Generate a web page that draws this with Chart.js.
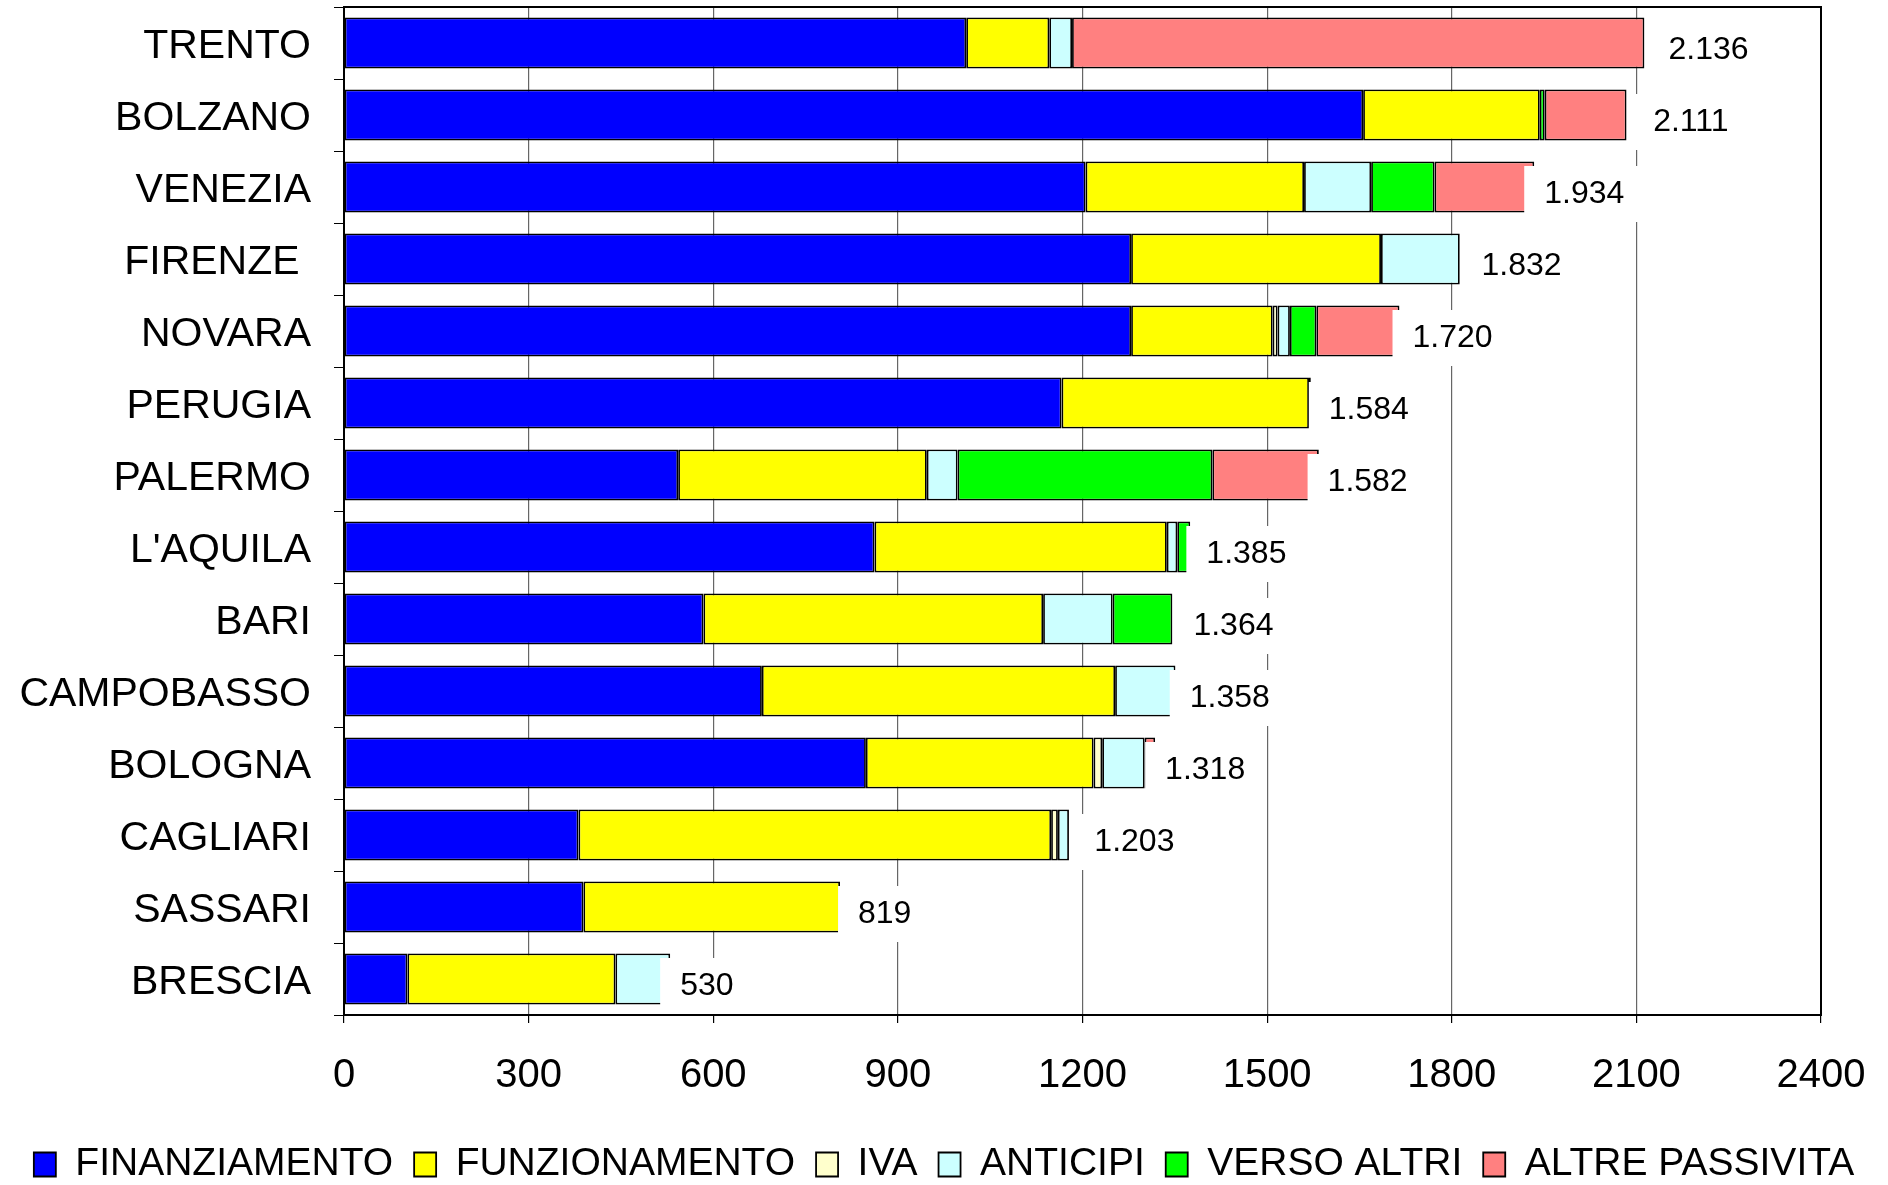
<!DOCTYPE html>
<html>
<head>
<meta charset="utf-8">
<script src="https://cdn.jsdelivr.net/npm/chart.js@4.4.1/dist/chart.umd.min.js"></script>
<style>
  body { margin: 0; background: #fff; }
  canvas { display: block; }
</style>
</head>
<body>
<canvas id="chart" width="1888" height="1185"></canvas>
<script>
'use strict';

// categories (top to bottom) and the stacked pieces
let cities = ['TRENTO', 'BOLZANO', 'VENEZIA', 'FIRENZE ', 'NOVARA', 'PERUGIA', 'PALERMO', 'L\'AQUILA', 'BARI', 'CAMPOBASSO', 'BOLOGNA', 'CAGLIARI', 'SASSARI', 'BRESCIA'];
let finanziamento = [1011, 1656, 1205, 1279, 1279, 1166, 543, 862, 584, 679, 848, 381, 389, 103];
let funzionamento = [135, 287, 355, 406, 230, 402, 404, 475, 552, 574, 370, 768, 417, 338];
let iva = [null, null, null, null, 8, null, null, null, null, null, 14, 11, null, null];
let anticipi = [37, null, 109, 128, 20, null, 50, 17, 113, 98, 69, 18, null, 89];
let versoAltri = [null, 8, 103, null, 43, 3, 414, 21, 97, null, null, null, null, null];
let altrePassivita = [930, 133, 162, null, 135, null, 173, null, null, null, 17, null, null, null];
let totals = [2136, 2111, 1934, 1832, 1720, 1584, 1582, 1385, 1364, 1358, 1318, 1203, 819, 530];
let xTicks = [0, 300, 600, 900, 1200, 1500, 1800, 2100, 2400];

let fontName = '"Liberation Sans", Arial, sans-serif';

function makeSet(label, data, color) {
  return {
    label: label,
    data: data,
    backgroundColor: color,
    borderColor: '#000',
    borderWidth: 1.8,
    borderSkipped: false,
    barPercentage: 0.71,
    categoryPercentage: 1
  };
}

// frame round the plot area (top and right sides)
let framePlugin = {
  id: 'frame',
  afterDraw(chart) {
    let a = chart.chartArea;
    let ctx = chart.ctx;
    ctx.save();
    ctx.strokeStyle = '#000';
    ctx.lineWidth = 2;
    ctx.strokeRect(a.left, a.top, a.right - a.left, a.bottom - a.top);
    ctx.restore();
  }
};

// total labels on white boxes at the end of each bar
let totalsPlugin = {
  id: 'totals',
  afterDatasetsDraw(chart) {
    let ctx = chart.ctx;
    let xs = chart.scales.x;
    let ys = chart.scales.y;
    ctx.save();
    ctx.font = '32px ' + fontName;
    ctx.textBaseline = 'middle';
    ctx.textAlign = 'left';
    for (let i = 0; i < totals.length; i++) {
      let text = totals[i].toLocaleString('it-IT');
      let x = xs.getPixelForValue(totals[i]) + 10;
      let y = ys.getPixelForValue(i) + 7;
      let w = ctx.measureText(text).width;
      ctx.fillStyle = '#fff';
      ctx.fillRect(x - 20, y - 28, w + 40, 56);
      ctx.fillStyle = '#000';
      ctx.fillText(text, x, y);
    }
    ctx.restore();
  }
};

let chart = new Chart(document.getElementById('chart').getContext('2d'), {
  type: 'bar',
  data: {
    labels: cities,
    datasets: [
      makeSet('FINANZIAMENTO', finanziamento, '#0000ff'),
      makeSet('FUNZIONAMENTO', funzionamento, '#ffff00'),
      makeSet('IVA', iva, '#ffffcc'),
      makeSet('ANTICIPI', anticipi, '#ccffff'),
      makeSet('VERSO ALTRI', versoAltri, '#00ff00'),
      makeSet('ALTRE PASSIVITA', altrePassivita, '#ff8080')
    ]
  },
  options: {
    indexAxis: 'y',
    responsive: false,
    animation: false,
    layout: { padding: { left: 0, right: 0, top: 7, bottom: -9 } },
    scales: {
      x: {
        stacked: true,
        min: 0,
        max: 2400,
        afterBuildTicks(scale) {
          scale.ticks = xTicks.map(v => ({ value: v }));
        },
        afterFit(scale) {
          scale.height = 109;
          scale.paddingLeft = 0;
          scale.paddingRight = 0;
        },
        ticks: {
          color: '#000',
          padding: 29,
          font: { family: fontName, size: 40 },
          callback: v => String(v)
        },
        grid: { color: '#666', lineWidth: 1.2, tickLength: 8, tickColor: '#000' },
        border: { color: '#000', width: 2 }
      },
      y: {
        stacked: true,
        afterFit(scale) {
          scale.width = 344;
          scale.paddingTop = 0;
          scale.paddingBottom = 0;
        },
        ticks: {
          color: '#000',
          padding: 23,
          labelOffset: 4,
          font: { family: fontName, size: 41 }
        },
        grid: { offset: true, drawOnChartArea: false, tickLength: 10, color: '#000' },
        border: { color: '#000', width: 2 }
      },
      // empty right-hand strip so the legend keeps the full width
      spacer: {
        type: 'linear',
        position: 'right',
        afterFit(scale) {
          scale.width = 67;
          scale.paddingTop = 0;
          scale.paddingBottom = 0;
        },
        ticks: { display: false },
        grid: { display: false },
        border: { display: false }
      }
    },
    plugins: {
      tooltip: { enabled: false },
      legend: {
        position: 'bottom',
        labels: {
          color: '#000',
          font: { family: fontName, size: 39 },
          boxWidth: 22,
          boxHeight: 24,
          padding: 21
        }
      }
    }
  },
  plugins: [framePlugin, totalsPlugin]
});
</script>
</body>
</html>
